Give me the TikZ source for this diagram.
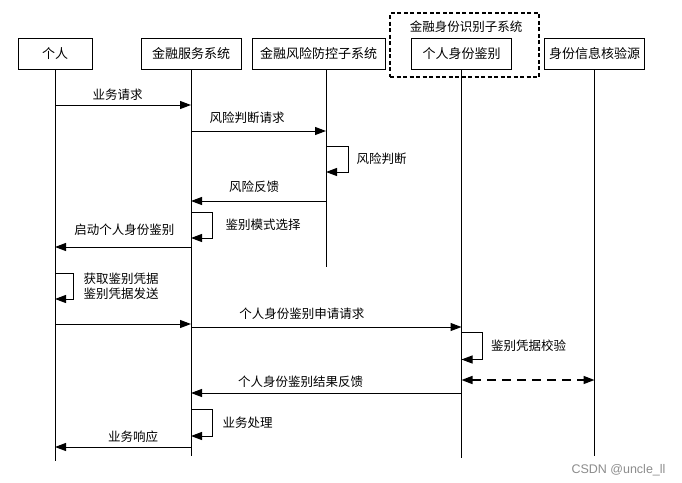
\documentclass[tikz,border=0pt]{standalone}
\usepackage{fontspec}
\newfontfamily\cjk{Noto Sans CJK SC}
\newfontfamily\wmfont{Liberation Sans}
\usepackage{tikz}
\usetikzlibrary{arrows.meta}
\usetikzlibrary{shapes}

\begin{document}
\begin{tikzpicture}[x=1pt,y=-1pt,
  box/.style={draw,line width=0.7pt,minimum height=31pt,inner sep=0pt,font=\cjk\fontsize{13}{15}\selectfont},
  life/.style={line width=1pt},
  msg/.style={line width=1pt,-{Triangle[length=11pt,width=8pt]}},
  txt/.style={font=\cjk\fontsize{12.5}{15}\selectfont,inner sep=0pt}]
\useasboundingbox (0,0) rectangle (682,482);
% participants
\node[box,minimum width=74pt] (ren) at (55,53.5) {个人};
\node[box,minimum width=100pt] (fin) at (191,53.5) {金融服务系统};
\node[box,minimum width=133pt] (risk) at (318.5,53.5) {金融风险防控子系统};
\node[box,minimum width=100pt] (ident) at (461.5,53.5) {个人身份鉴别};
\node[box,minimum width=100pt] (src) at (594.5,53.5) {身份信息核验源};
\node[draw,line width=1.3pt,dash pattern=on 4pt off 2.5pt,minimum width=149pt,minimum height=64pt] (grp) at (464.5,45) {};
\node[txt] (grptitle) at (466,26.5) {金融身份识别子系统};
% lifelines
\coordinate (riskL) at (326,69);
\draw[life] (ren.south) -- (ren.south |- 0,461);
\draw[life] (fin.south) -- (fin.south |- 0,456);
\draw[life] (riskL) -- (riskL |- 0,267);
\draw[life] (ident.south) -- (ident.south |- 0,458);
\draw[life] (src.south) -- (src.south |- 0,456);
% messages
\draw[msg] (ren |- 0,105) -- node[txt,pos=0.46,yshift=10pt] {业务请求} (fin |- 0,105);
\draw[msg] (fin |- 0,131) -- node[txt,pos=0.415,yshift=13pt] {风险判断请求} (riskL |- 0,131);
\draw[msg] (riskL |- 0,146) -- ++(22,0) -- node[txt,right=8pt,anchor=west] {风险判断} ++(0,26) -- (riskL |- 0,172);
\draw[msg] (riskL |- 0,201) -- node[txt,pos=0.533,yshift=14pt] {风险反馈} (fin |- 0,201);
\draw[msg] (fin |- 0,212) -- ++(21,0) -- node[txt,right=13pt,anchor=west] {鉴别模式选择} ++(0,26) -- (fin |- 0,238);
\draw[msg] (fin |- 0,247) -- node[txt,pos=0.49,yshift=17pt] {启动个人身份鉴别} (ren |- 0,247);
\draw[msg] (ren |- 0,273) -- ++(18,0) -- node[txt,right=10pt,anchor=west,align=left] {获取鉴别凭据\\鉴别凭据发送} ++(0,26) -- (ren |- 0,299);
\draw[msg] (ren |- 0,324) -- (fin |- 0,324);
\draw[msg] (fin |- 0,327) -- node[txt,pos=0.41,yshift=13pt] {个人身份鉴别申请请求} (ident |- 0,327);
\draw[msg] (ident |- 0,332) -- ++(21,0) -- node[txt,right=8pt,anchor=west] {鉴别凭据校验} ++(0,27.5) -- (ident |- 0,359.5);
\draw[line width=1.5pt,dash pattern=on 9pt off 6pt,{Triangle[length=11pt,width=8pt]}-{Triangle[length=11pt,width=8pt]}] (ident |- 0,380) -- (src |- 0,380);
\draw[msg] (ident |- 0,393) -- node[txt,pos=0.595,yshift=11.5pt] {个人身份鉴别结果反馈} (fin |- 0,393);
\draw[msg] (fin |- 0,409) -- ++(21,0) -- node[txt,right=10pt,anchor=west] {业务处理} ++(0,27) -- (fin |- 0,436);
\draw[msg] (fin |- 0,447) -- node[txt,pos=0.426,yshift=10pt] {业务响应} (ren |- 0,447);
\node[font=\wmfont\fontsize{12.5}{14}\selectfont,text=black!45] (mark) at (618.5,470) {CSDN @uncle\_ll};
\end{tikzpicture}
\end{document}
